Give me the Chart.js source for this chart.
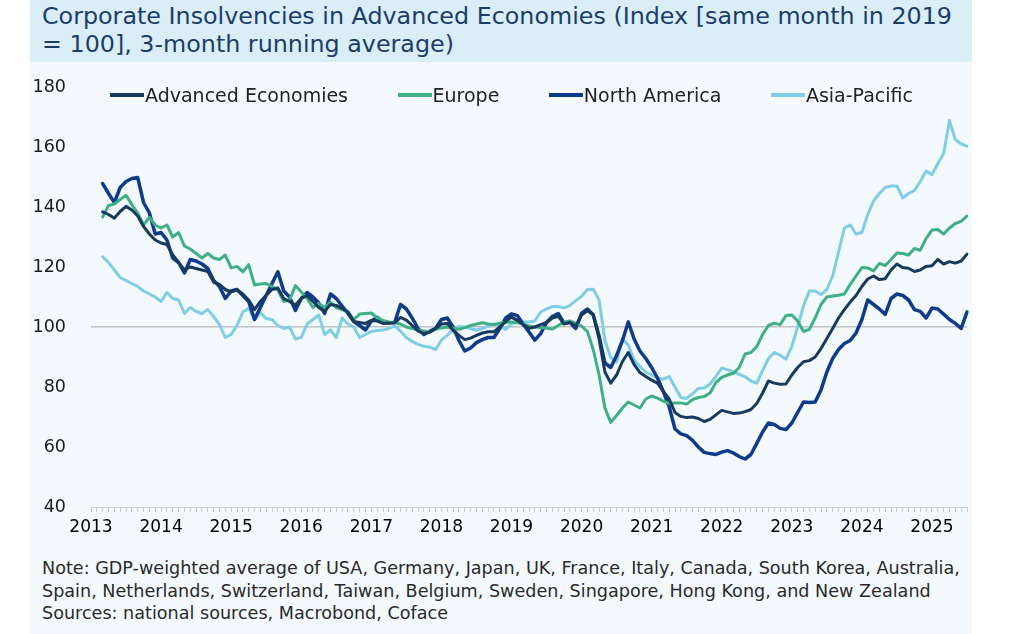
<!DOCTYPE html>
<html>
<head>
<meta charset="utf-8">
<script src="https://cdn.jsdelivr.net/npm/chart.js@4.4.1/dist/chart.umd.min.js"></script>
<style>
  html, body { margin: 0; padding: 0; background: #ffffff; }
  body { width: 1024px; height: 634px; position: relative; overflow: hidden; font-family: "DejaVu Sans", sans-serif; }
  #panel { position: absolute; left: 30px; top: 0; width: 942px; height: 634px; background: #f3f9fd; }
  #titleBand { position: absolute; left: 30px; top: 0; width: 942px; height: 62px; background: #d9eef6; }
  #title { position: absolute; left: 42px; top: 2px; font-size: 23.8px; line-height: 28px; color: #1c3d6b; white-space: nowrap; }
  #chartWrap { position: absolute; left: 30px; top: 62px; width: 942px; height: 480px; }
  #legend { position: absolute; left: 110px; top: 84px; width: 803px; height: 22px; display: flex; justify-content: space-between; align-items: center; }
  .item { display: flex; align-items: center; font-size: 19px; color: #222; white-space: nowrap; }
  .swatch { width: 34px; height: 3.5px; margin-right: 1px; }
  #notes { position: absolute; left: 42px; top: 557px; font-size: 17.6px; line-height: 22.5px; color: #2a2a2a; white-space: nowrap; }
</style>
</head>
<body>
<div id="panel"></div>
<div id="titleBand"></div>
<div id="title">Corporate Insolvencies in Advanced Economies (Index [same month in 2019<br>= 100], 3-month running average)</div>
<div id="chartWrap"><canvas id="insolvencyChart"></canvas></div>
<div id="legend"></div>
<div id="notes">Note: GDP-weighted average of USA, Germany, Japan, UK, France, Italy, Canada, South Korea, Australia,<br>Spain, Netherlands, Switzerland, Taiwan, Belgium, Sweden, Singapore, Hong Kong, and New Zealand<br>Sources: national sources, Macrobond, Coface</div>
<script>
// monthly categories Jan 2013 .. Jul 2025 (series start in Mar 2013)
var years = [2013, 2014, 2015, 2016, 2017, 2018, 2019, 2020, 2021, 2022, 2023, 2024, 2025];
var lastMonth = 7; // July 2025
var monthLabels = [];
years.forEach(function(y) {
    for (var m = 1; m <= 12; m++) {
        if (y === 2025 && m > lastMonth) break;
        monthLabels.push(y + '-' + (m < 10 ? '0' + m : m));
    }
});

var seriesNames = ['Advanced Economies', 'Europe', 'North America', 'Asia-Pacific'];
var seriesColors = ['#173a5e', '#3fb083', '#0f3b8c', '#80cde6'];

var advancedEconomies = [null, null,
    138.4, 137.5, 136.3, 138.5, 140.2, 139, 137, 133.5, 131, 129,
    128, 127.5, 124, 121.5, 119, 120, 119.5, 119, 118.5, 115, 114.2, 112.5,
    111.7, 112.3, 111, 109, 105.8, 108.5, 110.6, 112.5, 113, 109.5, 108.5, 107.3,
    109.5, 110.5, 108.5, 106.5, 105.2, 107.5, 107.2, 106.2, 105, 101.8, 101.5, 101.2,
    102.2, 102, 101.2, 101.3, 101.4, 103.2, 102.3, 100.5, 98.7, 97.8, 98.3, 99.5,
    101, 101.2, 98.9, 97.2, 95.8, 96.3, 97.2, 98, 98.4, 98.4, 100, 101.8,
    103.3, 102.2, 100.8, 99.6, 100, 100.8, 101.5, 103, 103.6, 101, 101.6, 100.3,
    104, 105.4, 104.2, 96, 85, 81.3, 84, 88.5, 91.5, 87.5, 84.8, 83.5,
    82.3, 81.3, 78.5, 76, 71.5, 70.2, 69.8, 70, 69.5, 68.5, 69.2, 70.7,
    72.2, 71.7, 71.2, 71.3, 71.8, 72.5, 74.5, 78, 82, 81.3, 80.9, 81,
    84, 86.5, 88.4, 88.8, 90, 92.8, 96.2, 99.5, 103, 105.8, 108.3, 110.5,
    113.5, 116, 117, 115.8, 116.1, 119, 121, 119.8, 119.6, 118.5, 119, 120.2,
    120.4, 122.5, 121, 121.8, 121.3, 122, 124.3];

var europe = [null, null,
    136.7, 140.5, 141, 142.5, 143.9, 140.8, 138, 134, 136.5, 134,
    133, 134, 130, 131.5, 127, 126, 124.5, 123, 124.5, 123, 122.5, 124,
    119.7, 120.2, 118.4, 120.8, 114, 114.3, 114.5, 113.5, 112.3, 108.5, 109, 113.8,
    111.7, 109.5, 106.5, 107.8, 106.5, 108.2, 106.5, 105.8, 105, 102.5, 104.3, 104.5,
    104.7, 103, 102.2, 101.7, 101.5, 101, 100, 99.5, 99, 98.7, 98.4, 99.2,
    99.7, 100, 99.6, 99.2, 99.8, 100.5, 101, 101.4, 101, 100.8, 101.3, 101.6,
    101.7, 101.4, 101, 100.3, 100, 99.8, 99.6, 99.3, 100.5, 101.7, 102, 101.3,
    100.3, 98.5, 92.5, 84, 73, 68.2, 70.5, 73, 75, 74, 73, 76,
    77, 76.3, 75.3, 74.5, 74.7, 74.7, 74.3, 75.8, 76.5, 76.8, 78, 81.5,
    83.2, 84, 84.6, 86.5, 91, 91.5, 93.5, 97.5, 100.5, 101.3, 100.8, 103.8,
    104, 102, 98.5, 99.2, 103, 107.5, 110, 110.3, 110.6, 111, 114.2, 117,
    119.8, 119.7, 118.7, 121.2, 120.5, 122.5, 124.7, 124.5, 124, 126.2, 125.6, 129.5,
    132.3, 132.5, 131, 133, 134.5, 135.2, 137];

var northAmerica = [null, null,
    147.8, 144.5, 141.5, 146.5, 148.5, 149.5, 149.8, 141.5, 138, 131,
    131.5, 129, 123, 121.5, 118, 122.5, 122, 121, 119.5, 115.5, 113.5, 109.5,
    112, 112.5, 110.5, 108.5, 102.5, 106.5, 110.5, 114.5, 118.4, 112, 110, 105.5,
    109.5, 111.5, 110, 108, 104.5, 111, 109.5, 107, 104.5, 101.8, 100.5, 99,
    102, 103.2, 101.5, 101.3, 101.5, 107.5, 106, 103, 99.5, 97.5, 98.6, 99.5,
    102.5, 103, 100, 95.5, 92, 93, 94.8, 95.8, 96.5, 96.5, 99.5, 103,
    104.4, 103.8, 101, 98.3, 95.6, 97.8, 101.5, 103.5, 104.5, 101.3, 101.6, 99.5,
    104.5, 106, 104, 97, 88, 86.5, 90.5, 95.5, 101.7, 96, 92, 89.5,
    86.5, 83, 78.5, 73.4, 66, 64.4, 63.8, 62.2, 60, 58.2, 57.8, 57.5,
    58.3, 58.8, 58, 56.8, 56, 57.5, 61.2, 65, 68, 67.5, 66.2, 65.8,
    68, 71.5, 75, 74.8, 75, 79, 85, 89.5, 92.5, 94.5, 95.5, 98,
    102.5, 109, 107.5, 106, 104.2, 109.5, 111, 110.5, 109, 105.8, 105.2, 103,
    106.3, 106, 104.3, 102.5, 101.2, 99.5, 105];

var asiaPacific = [null, null,
    123.4, 121.5, 119, 116.5, 115.5, 114.5, 113.5, 112, 111, 110,
    108.5, 111.5, 109.5, 109, 104.5, 106.5, 105.2, 104.5, 105.8, 103.5, 100.8, 96.5,
    97.5, 100.5, 105, 106.2, 102.5, 104.8, 102.8, 102.5, 100.5, 99.5, 100, 96,
    96.5, 101, 102.5, 104, 97.5, 99, 96.5, 103, 101, 100, 96.5, 97.5,
    98.5, 98.8, 99, 99.5, 100.4, 98.6, 96.5, 95.2, 94.2, 93.6, 93.3, 92.5,
    95.6, 97.2, 99.3, 100.2, 100, 99.5, 98.9, 99.5, 100.3, 101, 100.4, 99.2,
    101, 101.7, 101.7, 101.7, 102, 105, 106, 106.8, 106.8, 106.4, 107.2, 108.8,
    110.2, 112.5, 112.6, 109, 95.5, 89.8, 88.4, 96, 94, 89, 86.8, 85,
    84, 83, 82.6, 83.5, 80, 76.5, 76.2, 77.8, 79.5, 79.7, 81, 83.5,
    86.3, 85.8, 85, 84.2, 83.4, 82, 81.3, 85.5, 89.5, 91.5, 90.6, 89.3,
    93.5, 100, 107, 112, 112, 110.8, 112.5, 117, 125, 133, 134, 131,
    131.5, 137.5, 142, 144.5, 146.5, 147, 147, 143, 144.5, 145.5, 148.5, 152,
    150.8, 154.5, 157.8, 168.8, 162.5, 161, 160.3];

var seriesValues = [advancedEconomies, europe, northAmerica, asiaPacific];
var lineWidths = [3, 3, 3.5, 3];

var yTicks = [40, 60, 80, 100, 120, 140, 160, 180];

document.addEventListener('DOMContentLoaded', function() {
    Chart.defaults.font.family = '"DejaVu Sans", sans-serif';

    // HTML legend drawn from the same names/colours
    var legendEl = document.getElementById('legend');
    seriesNames.forEach(function(name, i) {
        var item = document.createElement('div');
        item.className = 'item';
        item.innerHTML = '<span class="swatch" style="background:' + seriesColors[i] + '"></span>' + name;
        legendEl.appendChild(item);
    });

    var datasets = seriesNames.map(function(name, i) {
        return {
            label: name,
            data: seriesValues[i],
            borderColor: seriesColors[i],
            backgroundColor: seriesColors[i],
            borderWidth: lineWidths[i],
            pointRadius: 0,
            tension: 0,
            borderJoinStyle: 'round',
            borderCapStyle: 'round',
            spanGaps: false
        };
    });

    var ctx = document.getElementById('insolvencyChart').getContext('2d');
    new Chart(ctx, {
        type: 'line',
        data: {
            labels: monthLabels,
            datasets: datasets
        },
        options: {
            responsive: true,
            maintainAspectRatio: false,
            animation: false,
            layout: {
                padding: { top: 25, right: 4, bottom: 5, left: 0 }
            },
            plugins: {
                legend: { display: false },
                tooltip: { enabled: false }
            },
            scales: {
                x: {
                    type: 'category',
                    grid: {
                        drawOnChartArea: false,
                        drawTicks: true,
                        tickLength: 5,
                        color: '#c9cdd2'
                    },
                    border: { display: true, color: '#c9cdd2' },
                    ticks: {
                        autoSkip: false,
                        maxRotation: 0,
                        minRotation: 0,
                        padding: 5,
                        color: '#000',
                        font: { size: 17 },
                        callback: function(value, index) {
                            var lab = monthLabels[index];
                            return lab.slice(5) === '01' ? lab.slice(0, 4) : '';
                        }
                    },
                    afterFit: function(scale) { scale.height = 30; }
                },
                y: {
                    min: 40,
                    max: 180,
                    afterBuildTicks: function(scale) {
                        scale.ticks = yTicks.map(function(v) { return { value: v }; });
                    },
                    grid: {
                        drawTicks: true,
                        tickLength: 25,
                        tickColor: 'rgba(0,0,0,0)',
                        lineWidth: 1.5,
                        color: function(c) {
                            return c.tick && c.tick.value === 100 ? '#c3c3c3' : 'rgba(0,0,0,0)';
                        }
                    },
                    border: { display: false },
                    ticks: {
                        padding: 0,
                        color: '#1a1a1a',
                        font: { size: 17.5 }
                    },
                    afterFit: function(scale) { scale.width = 61; }
                }
            }
        }
    });
});
</script>
</body>
</html>
